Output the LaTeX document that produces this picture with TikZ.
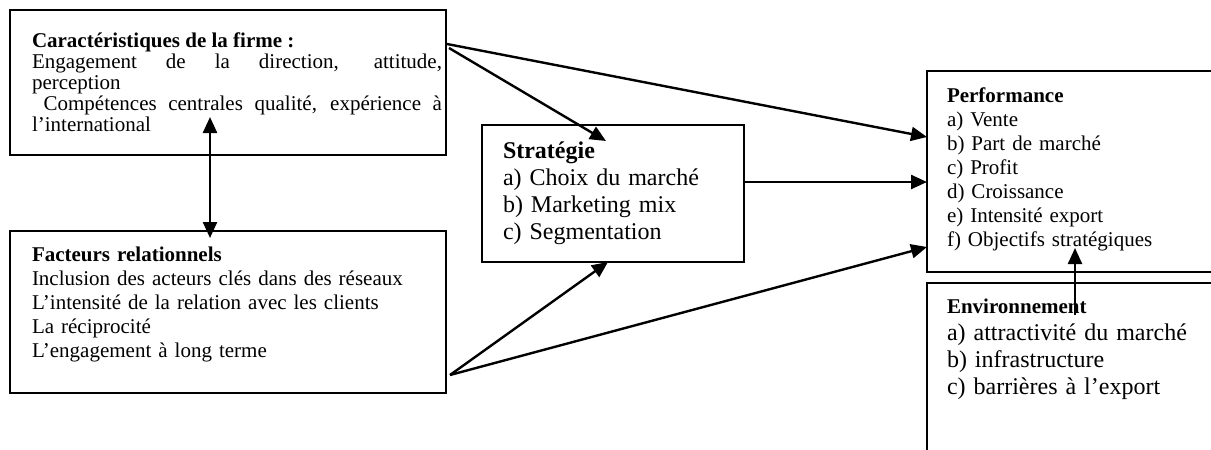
\documentclass[tikz,border=0pt]{standalone}
\usepackage{fontspec}
\setmainfont{Liberation Serif}
\usetikzlibrary{arrows.meta,calc}
\begin{document}
\begin{tikzpicture}[x=1pt,y=-1pt,
  box/.style={draw,line width=1.6pt,inner sep=0pt,outer sep=0pt,anchor=north west},
  lbl/.style={anchor=north west,inner sep=0pt,outer sep=0pt},
  arr/.style={line width=2.4pt,-{Triangle[length=16pt,width=14pt]}},
  darr/.style={line width=2.4pt,{Triangle[length=16pt,width=14pt]}-{Triangle[length=16pt,width=14pt]}}]
\clip (0,0) rectangle (1211,450);
% boxes
\node[box,minimum width=436pt,minimum height=145pt] (firme) at (10,10) {};
\node[box,minimum width=436pt,minimum height=162pt] (rel) at (10,231) {};
\node[box,minimum width=262pt,minimum height=137pt] (strat) at (482,125) {};
\node[box,minimum width=300pt,minimum height=201pt] (perf) at (927,71) {};
\node[box,minimum width=300pt,minimum height=190pt] (env) at (927,283) {};
% texts
\node[lbl,text width=410pt,align=justify,font=\fontsize{21}{21}\selectfont] (firmetext) at (32,32.3)
 {\strut\textbf{Caractéristiques de la firme :}\par
  Engagement de la direction, attitude,\linebreak perception\par
  \ Compétences centrales qualité, expérience à\linebreak l’international};
\node[lbl,text width=420pt,align=left,font=\fontsize{21}{24}\selectfont] (reltext) at (32,244.2)
 {\strut\textbf{Facteurs relationnels}\\
  Inclusion des acteurs clés dans des réseaux\\
  L’intensité de la relation avec les clients\\
  La réciprocité\\
  L’engagement à long terme};
\node[lbl,text width=240pt,align=left,font=\fontsize{24}{27}\selectfont] (strattext) at (503,139.1)
 {\strut\textbf{Stratégie}\\
  a) Choix du marché\\
  b) Marketing mix\\
  c) Segmentation};
\node[lbl,text width=260pt,align=left,font=\fontsize{21}{24}\selectfont] (perftext) at (947,86)
 {\strut\textbf{Performance}\\
  a) Vente\\
  b) Part de marché\\
  c) Profit\\
  d) Croissance\\
  e) Intensité export\\
  f) Objectifs stratégiques};
\node[lbl,text width=260pt,align=left,font=\fontsize{24}{27}\selectfont] (envtext) at (947,294.1)
 {\strut{\fontsize{21}{27}\selectfont\bfseries Environnement}\\
  a) attractivité du marché\\
  b) infrastructure\\
  c) barrières à l’export};
% connectors
\draw[arr] ($(firme.north east)+(3,38)$) -- ($(strat.north west)+(124,16)$);
\draw[arr] ($(firme.north east)+(1,34)$) -- ($(perf.north west)+(0,66)$);
\draw[arr] ($(strat.north east)+(0,57)$) -- ($(perf.north west)+(0,111)$);
\draw[arr] ($(rel.north east)+(4,144)$) -- ($(strat.south west)+(126,0)$);
\draw[arr] ($(rel.north east)+(4,144)$) -- ($(perf.north west)+(0,176)$);
\draw[darr] ($(firme.south west)+(200,-38)$) -- ($(rel.north west)+(200,7)$);
\draw[arr] ($(env.north west)+(148,32)$) -- ($(perf.north west)+(148,177)$);
\end{tikzpicture}
\end{document}
